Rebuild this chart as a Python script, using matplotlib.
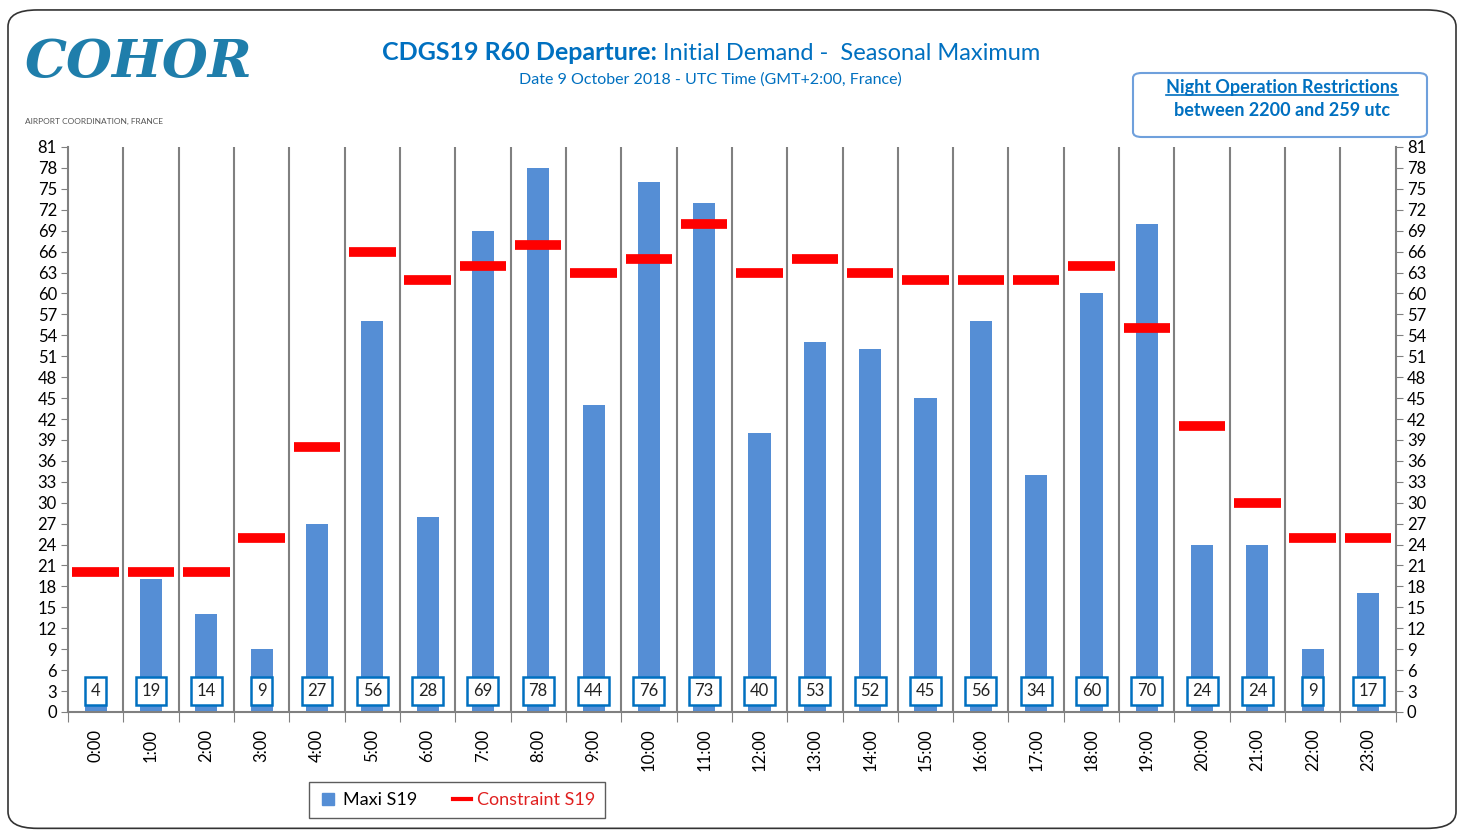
import numpy as np
import matplotlib.pyplot as plt
from matplotlib.patches import FancyBboxPatch, Rectangle
from matplotlib.lines import Line2D

plt.rcParams['font.family'] = ['Lato', 'DejaVu Sans']

hours = ['0:00', '1:00', '2:00', '3:00', '4:00', '5:00', '6:00', '7:00', '8:00', '9:00',
         '10:00', '11:00', '12:00', '13:00', '14:00', '15:00', '16:00', '17:00', '18:00',
         '19:00', '20:00', '21:00', '22:00', '23:00']
maxi_s19 = [4, 19, 14, 9, 27, 56, 28, 69, 78, 44, 76, 73, 40, 53, 52, 45, 56, 34, 60, 70, 24, 24, 9, 17]
constraint_s19 = [20, 20, 20, 25, 38, 66, 62, 64, 67, 63, 65, 70, 63, 65, 63, 62, 62, 62, 64, 55, 41, 30, 25, 25]

blue = '#558ED5'
dark_blue = '#0070C0'

fig = plt.figure(figsize=(14.63, 8.3), dpi=100)
ax = fig.add_axes([0.0465, 0.1422, 0.9075, 0.6807])

x = np.arange(len(hours))
ax.bar(x, maxi_s19, width=0.4, color=blue, zorder=2)
ax.hlines(constraint_s19, x - 0.42, x + 0.42, color='red', lw=7, zorder=3)

for xi, v in zip(x, maxi_s19):
    ax.text(xi, 3, str(v), ha='center', va='center', fontsize=12, color='#222222', zorder=4,
            bbox=dict(boxstyle='square,pad=0.35', fc='white', ec=dark_blue, lw=1.8))

ax.set_xlim(-0.5, 23.5)
ax.set_ylim(0, 81)
ax.set_yticks(range(0, 82, 3))
ax.tick_params(axis='y', labelsize=12, right=True, labelright=True, direction='out',
               length=5, color='#808080', pad=3)

# category boundaries carry the ticks and grid lines
ax.set_xticks(np.arange(-0.5, 24, 1))
ax.set_xticklabels([])
ax.tick_params(axis='x', direction='out', length=7, color='#808080')
ax.set_xticks(x, minor=True)
ax.set_xticklabels(hours, minor=True, rotation=90, fontsize=12)
ax.tick_params(axis='x', which='minor', length=0, pad=12)
for b in np.arange(0.5, 23.5, 1):
    ax.axvline(b, color='#808080', lw=1.5, zorder=1)

ax.spines['top'].set_visible(False)
for s in ['left', 'right', 'bottom']:
    ax.spines[s].set_color('#808080')
    ax.spines[s].set_linewidth(1.5)

handles = [Line2D([], [], marker='s', ls='none', color=blue, markersize=9),
           Line2D([], [], color='red', lw=3)]
leg = fig.legend(handles, ['Maxi S19', 'Constraint S19'], loc='center',
                 bbox_to_anchor=(457 / 1463, 1 - 800 / 830), ncol=2, fontsize=13,
                 frameon=True, fancybox=False, edgecolor='#333333', handlelength=1.0,
                 handletextpad=0.3, columnspacing=2.0, borderpad=0.55, borderaxespad=0)
leg.get_texts()[1].set_color('#E02020')

# outer rounded frame
fig.patches.append(FancyBboxPatch((8 / 1463, 0.002), 1448 / 1463, 0.986,
                                  boxstyle='round,pad=0,rounding_size=0.02',
                                  transform=fig.transFigure, fill=False,
                                  ec='#333333', lw=1.2))

# logo
fig.text(25 / 1463, 1 - 62 / 830, 'COHOR', fontsize=38, fontweight='bold', style='italic',
         color='#1F7EAB', va='center', ha='left', family='DejaVu Serif')
fig.text(25 / 1463, 1 - 121 / 830, 'AIRPORT COORDINATION, FRANCE', fontsize=6,
         color='#555555', va='center', ha='left')

# titles
split = 657 / 1463
fig.text(split, 1 - 53 / 830, 'CDGS19 R60 Departure:', fontsize=18, fontweight='bold',
         color=dark_blue, va='center', ha='right')
fig.text(split, 1 - 53 / 830, ' Initial Demand -  Seasonal Maximum', fontsize=17,
         color=dark_blue, va='center', ha='left')
fig.text(710 / 1463, 1 - 80 / 830, 'Date 9 October 2018 - UTC Time (GMT+2:00, France)',
         fontsize=11.5, color=dark_blue, va='center', ha='center')

# night restrictions box
fig.patches.append(FancyBboxPatch((1133 / 1463, 1 - 137 / 830), 294 / 1463, 64 / 830,
                                  boxstyle='round,pad=0,rounding_size=0.006',
                                  transform=fig.transFigure, fill=False, ec='#6FA0DC', lw=1.5))
nt = fig.text(1282 / 1463, 1 - 88 / 830, 'Night Operation Restrictions', fontsize=13,
              fontweight='bold', color=dark_blue, va='center', ha='center')
fig.text(1282 / 1463, 1 - 111 / 830, 'between 2200 and 259 utc', fontsize=13,
         fontweight='bold', color=dark_blue, va='center', ha='center')
fig.canvas.draw()
nb = nt.get_window_extent().transformed(fig.transFigure.inverted())
fig.add_artist(Line2D([nb.x0, nb.x1], [nb.y0 + 0.002, nb.y0 + 0.002],
                      transform=fig.transFigure, color=dark_blue, lw=1.2))

fig.savefig('out.png', dpi=100)
